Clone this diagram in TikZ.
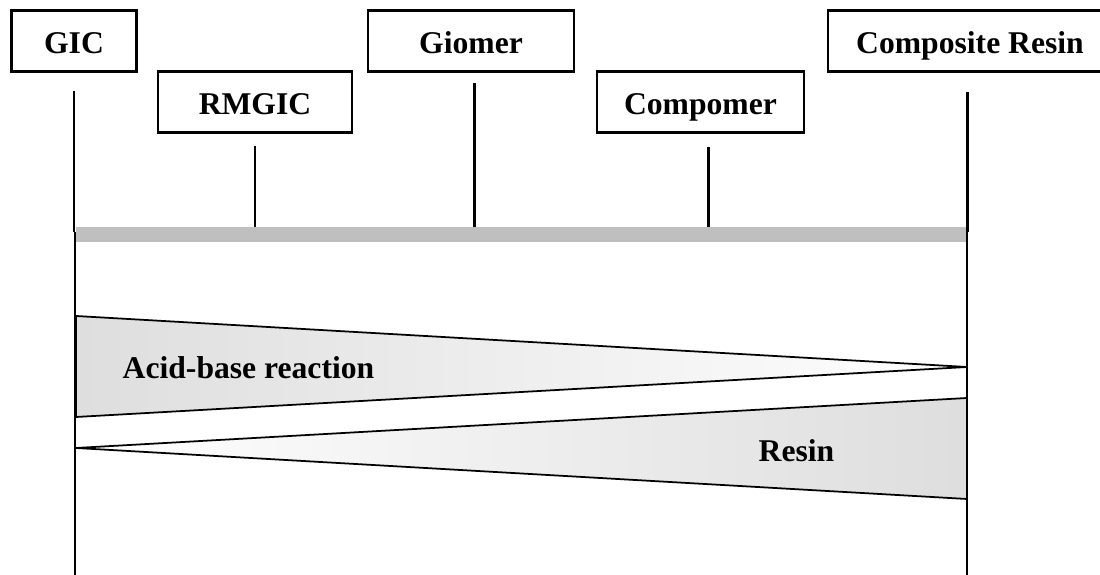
\documentclass[tikz,border=0pt]{standalone}
\usepackage{fontspec}
\setmainfont{Liberation Serif}
\usetikzlibrary{positioning, calc}

\begin{document}
\begin{tikzpicture}[>=latex,
    mat/.style={draw, line width=0.6pt, minimum height=0.61cm, inner sep=0pt,
        text height=7.4pt, text depth=0pt, font=\bfseries\fontsize{9}{11}\selectfont},
    tick/.style={line width=0.85pt},
    rail/.style={line width=0.5pt},
    lbl/.style={anchor=base west, inner sep=0pt, font=\bfseries\fontsize{9}{11}\selectfont}]

    \useasboundingbox (0,0) rectangle (11,5.75);

    % materials
    \draw(0.74,5.34) node[mat, minimum width=1.25cm] (GIC) {GIC};
    \draw(2.55,4.73) node[mat, minimum width=1.94cm] (RMGIC) {RMGIC};
    \draw(4.71,5.34) node[mat, minimum width=2.06cm] (Giomer) {Giomer};
    \draw(7.005,4.73) node[mat, minimum width=2.07cm] (Compomer) {Compomer};
    \draw(9.70,5.34) node[mat, minimum width=2.84cm] (CR) {Composite Resin};

    % scale bar
    \fill[black!25] (0.76,3.33) rectangle (9.67,3.48);
    \draw[tick] (0.74,4.84) -- (0.74,3.43);
    \draw[tick] (2.55,4.29) -- (2.55,3.48);
    \draw[tick] (4.74,4.92) -- (4.74,3.48);
    \draw[tick] (7.08,4.28) -- (7.08,3.48);
    \draw[tick] (9.67,4.83) -- (9.67,3.43);
    \draw[rail] (0.75,3.43) -- (0.75,0);
    \draw[rail] (9.67,3.43) -- (9.67,0);

    % setting reactions
    \shadedraw[rail, left color=black!13, right color=white]
        (0.76,2.59) -- (9.67,2.08) -- (0.76,1.58) -- cycle;
    \shadedraw[rail, left color=white, right color=black!13]
        (0.76,1.27) -- (9.67,1.77) -- (9.67,0.76) -- cycle;
    \node[lbl] (AB) at (1.22,1.96) {Acid-base reaction};
    \node[lbl] (R) at (7.58,1.13) {Resin};

\end{tikzpicture}
\end{document}
